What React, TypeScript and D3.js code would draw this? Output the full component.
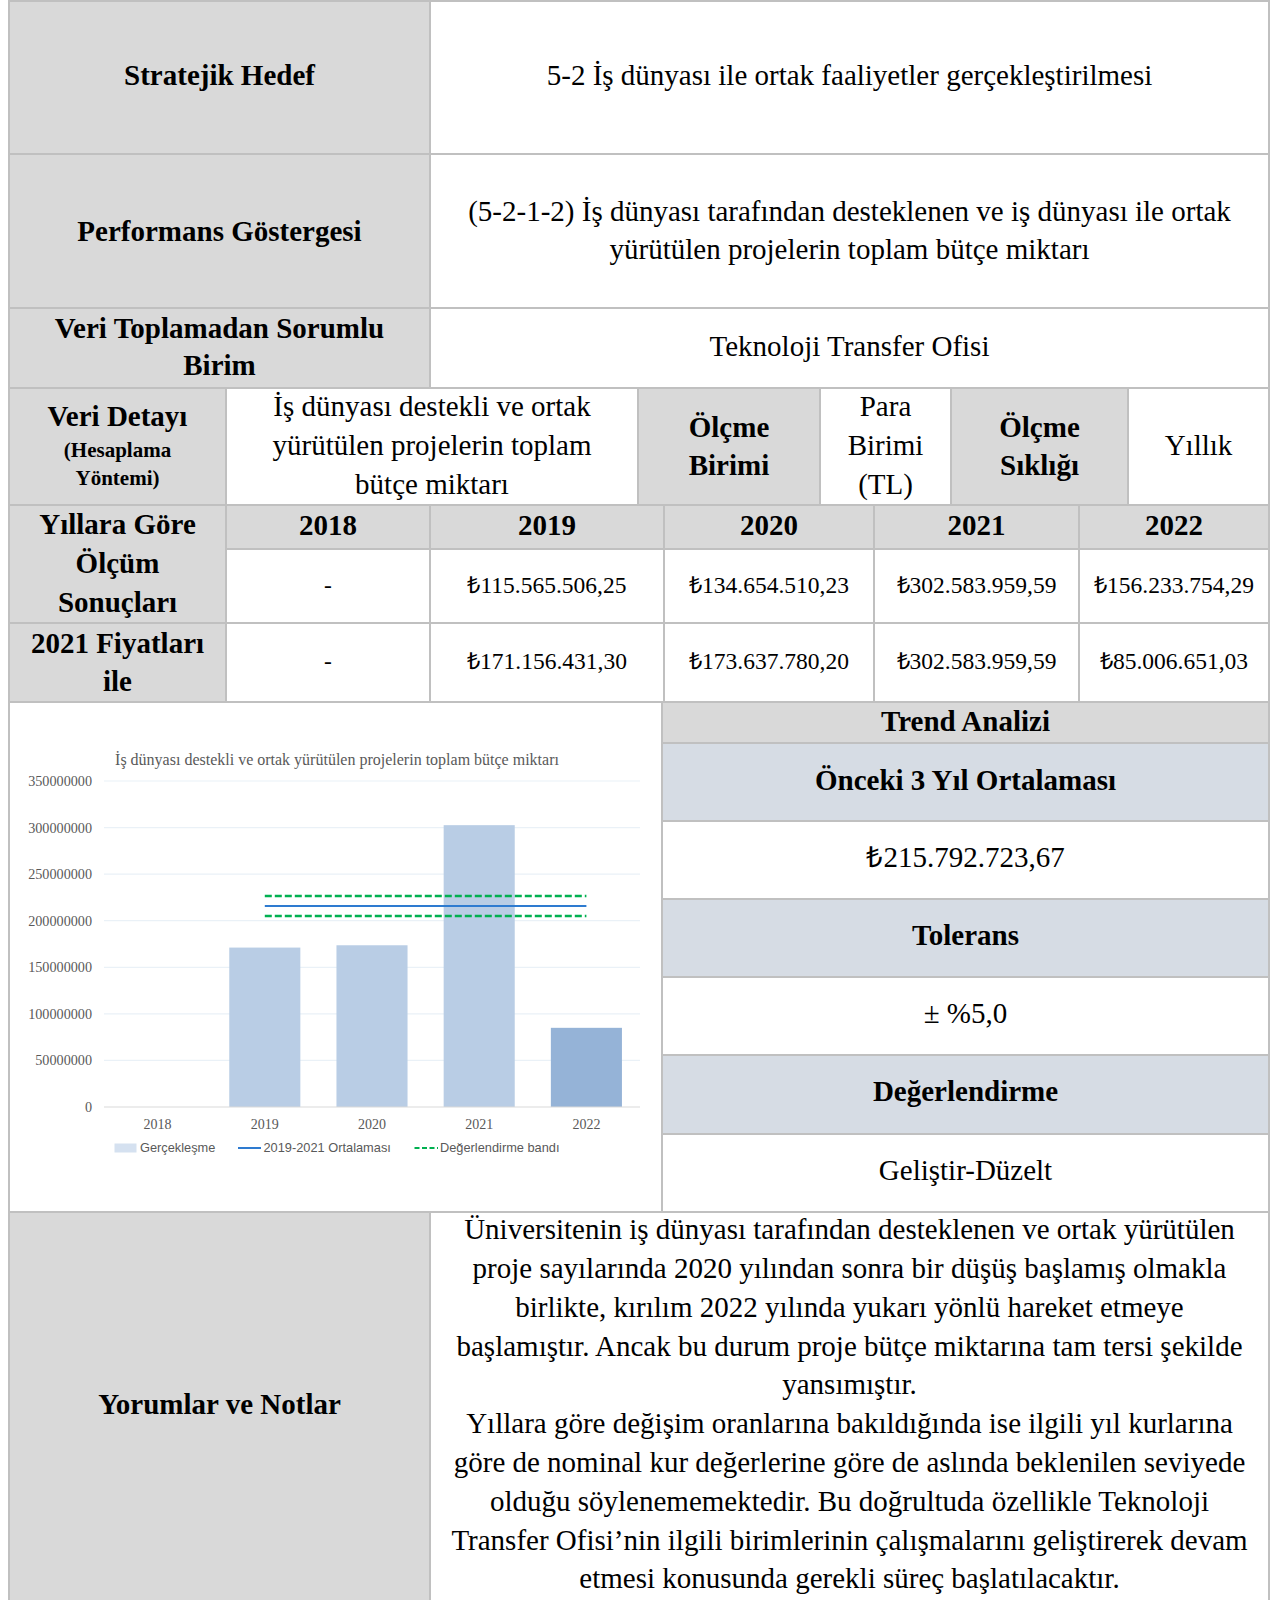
import React from 'react';
import * as d3 from 'd3';

// data
const years = ['2018', '2019', '2020', '2021', '2022'];
const nominalValues = [null, 115565506.25, 134654510.23, 302583959.59, 156233754.29];
const realValues = [null, 171156431.3, 173637780.2, 302583959.59, 85006651.03];
const previousAverage = 215792723.67;
const tolerance = 0.05;
const yTicks = [0, 50000000, 100000000, 150000000, 200000000, 250000000, 300000000, 350000000];
const chartTitle = 'İş dünyası destekli ve ortak yürütülen projelerin toplam bütçe miktarı';
const legendLabels = ['Gerçekleşme', '2019-2021 Ortalaması', 'Değerlendirme bandı'];
const commentLines = [
  'Üniversitenin iş dünyası tarafından desteklenen ve ortak yürütülen',
  'proje sayılarında 2020 yılından sonra bir düşüş başlamış olmakla',
  'birlikte, kırılım 2022 yılında yukarı yönlü hareket etmeye',
  'başlamıştır. Ancak bu durum proje bütçe miktarına tam tersi şekilde',
  'yansımıştır.',
  'Yıllara göre değişim oranlarına bakıldığında ise ilgili yıl kurlarına',
  'göre de nominal kur değerlerine göre de aslında beklenilen seviyede',
  'olduğu söylenememektedir. Bu doğrultuda özellikle Teknoloji',
  'Transfer Ofisi’nin ilgili birimlerinin çalışmalarını geliştirerek devam',
  'etmesi konusunda gerekli süreç başlatılacaktır.',
];
const evaluation = 'Geliştir-Düzelt';

const trLocale = d3.formatLocale({ decimal: ',', thousands: '.', grouping: [3], currency: ['₺', ''] });
const money = trLocale.format('$,.2f');
const fmtValue = (v: number | null) => (v == null ? '-' : money(v));

const SERIF = '"Liberation Serif", "Times New Roman", serif';
const SANS = '"Liberation Sans", Arial, sans-serif';
const GRAY = '#d9d9d9';
const BLUEGRAY = '#d6dce4';
const BORDER = '#c0c0c0';

function Cell({ x0, x1, y0, y1, fill = '#fff' }: any) {
  return <rect x={x0} y={y0} width={x1 - x0} height={y1 - y0} fill={fill} stroke={BORDER} strokeWidth={2} />;
}

function Lines({ x, ys, lines, size = 29, bold = false }: any) {
  return (
    <g>
      {lines.map((t: string, i: number) => (
        <text key={i} x={x} y={ys[i]} dy="0.35em" textAnchor="middle" fontFamily={SERIF}
          fontSize={size} fontWeight={bold ? 'bold' : 'normal'} fill="#000">{t}</text>
      ))}
    </g>
  );
}

function Chart() {
  const left = 104, right = 640, top = 781, bottom = 1107;
  const x = d3.scaleBand().domain(years).range([left, right]).paddingInner(0.337).paddingOuter(0.1685);
  const y = d3.scaleLinear().domain([0, 350000000]).range([bottom, top]);
  const bw = x.bandwidth();
  const xa = (x('2019') as number) + bw / 2;
  const xb = (x('2022') as number) + bw / 2;
  const band = [previousAverage * (1 + tolerance), previousAverage * (1 - tolerance)];
  const ly = 1148;
  return (
    <g>
      <text x={337} y={759} dy="0.35em" textAnchor="middle" fontFamily={SERIF} fontSize={16} fill="#595959">{chartTitle}</text>
      {yTicks.map((t) => (
        <g key={t}>
          {t > 0 && <line x1={left} x2={right} y1={y(t)} y2={y(t)} stroke="#eaf1f7" strokeWidth={1.2} />}
          <text x={92} y={y(t)} dy="0.35em" textAnchor="end" fontFamily={SERIF} fontSize={14.2} fill="#595959">{t}</text>
        </g>
      ))}
      {years.map((yr, i) => realValues[i] == null ? null : (
        <rect key={yr} x={x(yr)} y={y(realValues[i] as number)} width={bw}
          height={bottom - y(realValues[i] as number)} fill={yr === '2022' ? '#95b3d7' : '#b9cde5'} />
      ))}
      <line x1={left} x2={right} y1={bottom} y2={bottom} stroke="#d9d9d9" strokeWidth={1.2} />
      {years.map((yr) => (
        <text key={yr} x={(x(yr) as number) + bw / 2} y={1124} dy="0.35em" textAnchor="middle"
          fontFamily={SERIF} fontSize={14} fill="#595959">{yr}</text>
      ))}
      {band.map((b, i) => (
        <line key={i} x1={xa} x2={xb} y1={y(b)} y2={y(b)} stroke="#00b050" strokeWidth={2.5} strokeDasharray="7,3" />
      ))}
      <line x1={xa} x2={xb} y1={y(previousAverage)} y2={y(previousAverage)} stroke="#2e7bd0" strokeWidth={1.8} />
      <rect x={114.5} y={ly - 4.5} width={22} height={9} fill="#d5e1f0" />
      <text x={140} y={ly} dy="0.35em" fontFamily={SANS} fontSize={12.8} fill="#595959">{legendLabels[0]}</text>
      <line x1={238} x2={261} y1={ly} y2={ly} stroke="#2e7bd0" strokeWidth={2} />
      <text x={263.5} y={ly} dy="0.35em" fontFamily={SANS} fontSize={12.8} fill="#595959">{legendLabels[1]}</text>
      <line x1={414.5} x2={438} y1={ly} y2={ly} stroke="#00b050" strokeWidth={2.2} strokeDasharray="5,2.5" />
      <text x={440} y={ly} dy="0.35em" fontFamily={SANS} fontSize={12.8} fill="#595959">{legendLabels[2]}</text>
    </g>
  );
}

export default function App() {
  const L = 9, M = 430, R = 1269, S = 662;
  const c4 = [9, 226, 638, 820, 951, 1128, 1269];
  const cy = [9, 226, 430, 664, 874, 1079, 1269];
  const mid = (a: number, b: number) => (a + b) / 2;
  const trendRows = [702, 743, 821, 899, 977, 1055, 1134, 1212];
  const trendFill = [GRAY, BLUEGRAY, '#fff', BLUEGRAY, '#fff', BLUEGRAY, '#fff'];
  const trendText = [
    { t: 'Trend Analizi', b: true, y: 721 },
    { t: 'Önceki 3 Yıl Ortalaması', b: true, y: 780 },
    { t: money(previousAverage), b: false, y: 857 },
    { t: 'Tolerans', b: true, y: 935 },
    { t: '± %' + d3.format('.1f')(tolerance * 100).replace('.', ','), b: false, y: 1013 },
    { t: 'Değerlendirme', b: true, y: 1091 },
    { t: evaluation, b: false, y: 1170 },
  ];
  return (
    <svg width={1274} height={1600} style={{ position: 'absolute', left: 0, top: 0, display: 'block', background: '#fff' }}>
      {/* rows 1-3 */}
      <Cell x0={L} x1={M} y0={1} y1={154} fill={GRAY} />
      <Cell x0={M} x1={R} y0={1} y1={154} />
      <Lines x={mid(L, M)} ys={[74.5]} lines={['Stratejik Hedef']} bold />
      <Lines x={mid(M, R)} ys={[74.5]} lines={['5-2 İş dünyası ile ortak faaliyetler gerçekleştirilmesi']} />
      <Cell x0={L} x1={M} y0={154} y1={308} fill={GRAY} />
      <Cell x0={M} x1={R} y0={154} y1={308} />
      <Lines x={mid(L, M)} ys={[230.5]} lines={['Performans Göstergesi']} bold />
      <Lines x={mid(M, R)} ys={[211, 249]} lines={['(5-2-1-2) İş dünyası tarafından desteklenen ve iş dünyası ile ortak', 'yürütülen projelerin toplam bütçe miktarı']} />
      <Cell x0={L} x1={M} y0={308} y1={388} fill={GRAY} />
      <Cell x0={M} x1={R} y0={308} y1={388} />
      <Lines x={mid(L, M)} ys={[327.5, 365]} lines={['Veri Toplamadan Sorumlu', 'Birim']} bold />
      <Lines x={mid(M, R)} ys={[346]} lines={['Teknoloji Transfer Ofisi']} />

      {/* row 4 */}
      {c4.slice(0, -1).map((x0, i) => (
        <Cell key={i} x0={x0} x1={c4[i + 1]} y0={388} y1={505} fill={i % 2 === 0 ? GRAY : '#fff'} />
      ))}
      <Lines x={mid(c4[0], c4[1])} ys={[416]} lines={['Veri Detayı']} bold />
      <Lines x={mid(c4[0], c4[1])} ys={[450, 478]} lines={['(Hesaplama', 'Yöntemi)']} bold size={21} />
      <Lines x={mid(c4[1], c4[2])} ys={[406, 445, 483.5]} lines={['İş dünyası destekli ve ortak', 'yürütülen projelerin toplam', 'bütçe miktarı']} />
      <Lines x={mid(c4[2], c4[3])} ys={[426.5, 465]} lines={['Ölçme', 'Birimi']} bold />
      <Lines x={mid(c4[3], c4[4])} ys={[406, 445, 483.5]} lines={['Para', 'Birimi', '(TL)']} />
      <Lines x={mid(c4[4], c4[5])} ys={[426.5, 465]} lines={['Ölçme', 'Sıklığı']} bold />
      <Lines x={mid(c4[5], c4[6])} ys={[445]} lines={['Yıllık']} />

      {/* rows 5-6 */}
      <Cell x0={cy[0]} x1={cy[1]} y0={505} y1={623} fill={GRAY} />
      <Lines x={mid(cy[0], cy[1])} ys={[524, 563, 602]} lines={['Yıllara Göre', 'Ölçüm', 'Sonuçları']} bold />
      <Cell x0={cy[0]} x1={cy[1]} y0={623} y1={702} fill={GRAY} />
      <Lines x={mid(cy[0], cy[1])} ys={[642.5, 681]} lines={['2021 Fiyatları', 'ile']} bold />
      {years.map((yr, i) => (
        <g key={yr}>
          <Cell x0={cy[i + 1]} x1={cy[i + 2]} y0={505} y1={549} fill={GRAY} />
          <Lines x={mid(cy[i + 1], cy[i + 2])} ys={[525]} lines={[yr]} bold />
          <Cell x0={cy[i + 1]} x1={cy[i + 2]} y0={549} y1={623} />
          <Lines x={mid(cy[i + 1], cy[i + 2])} ys={[584.5]} lines={[fmtValue(nominalValues[i])]} size={23.5} />
          <Cell x0={cy[i + 1]} x1={cy[i + 2]} y0={623} y1={702} />
          <Lines x={mid(cy[i + 1], cy[i + 2])} ys={[661]} lines={[fmtValue(realValues[i])]} size={23.5} />
        </g>
      ))}

      {/* chart + trend */}
      <Cell x0={L} x1={S} y0={702} y1={1212} />
      <Chart />
      {trendFill.map((f, i) => (
        <Cell key={i} x0={S} x1={R} y0={trendRows[i]} y1={trendRows[i + 1]} fill={f} />
      ))}
      {trendText.map((d, i) => (
        <Lines key={i} x={mid(S, R)} ys={[d.y]} lines={[d.t]} bold={d.b} />
      ))}

      {/* comments */}
      <Cell x0={L} x1={M} y0={1212} y1={1612} fill={GRAY} />
      <Cell x0={M} x1={R} y0={1212} y1={1612} />
      <Lines x={mid(L, M)} ys={[1403.5]} lines={['Yorumlar ve Notlar']} bold />
      <Lines x={mid(M, R)} ys={commentLines.map((_, i) => 1229 + i * 38.8)} lines={commentLines} />
    </svg>
  );
}
